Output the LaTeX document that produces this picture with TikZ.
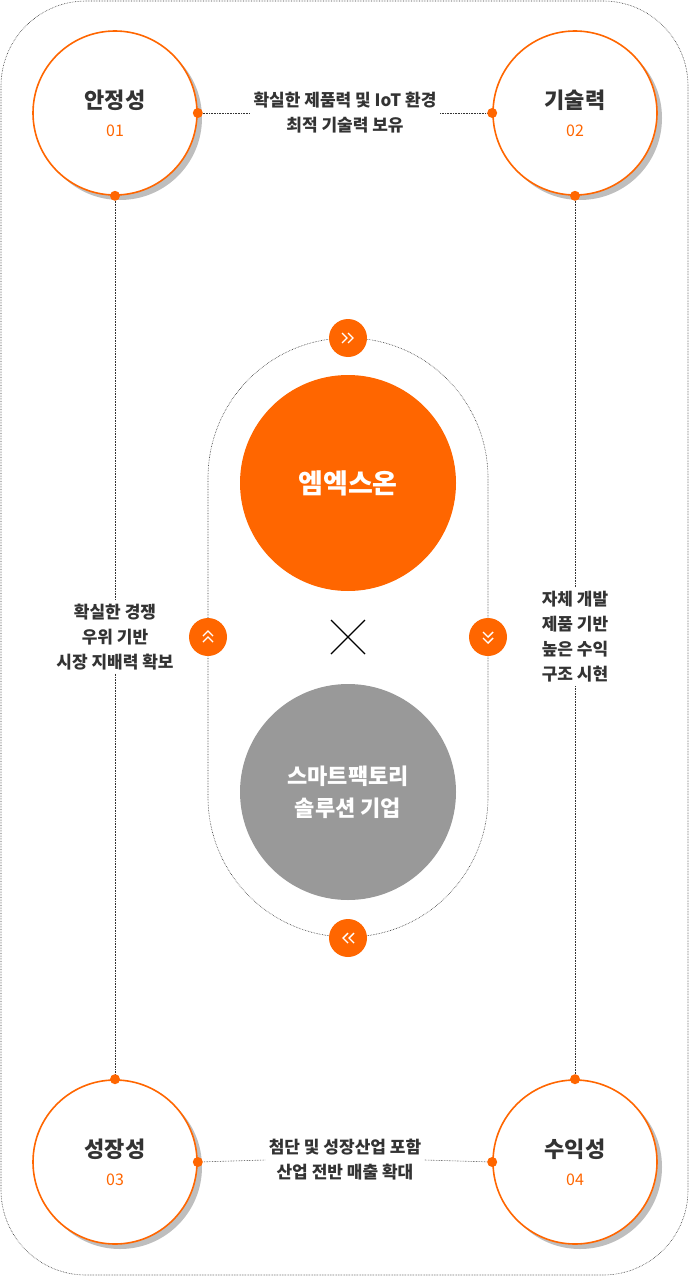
\documentclass[tikz,border=0pt]{standalone}
\usepackage{fontspec}
\setmainfont{Noto Sans CJK KR}
\usetikzlibrary{positioning}
\definecolor{mxorange}{RGB}{255,102,0}
\definecolor{mxgray}{RGB}{153,153,153}
\definecolor{mxtext}{RGB}{51,51,51}
\definecolor{mxshadow}{RGB}{190,190,190}
\tikzset{every picture/.style={line width=0.75pt}}
\begin{document}
\begin{tikzpicture}[x=1pt,y=1pt,yscale=-1,
  ring/.style={circle,draw=mxorange,line width=1.6pt,fill=white,minimum size=164pt,inner sep=0pt,align=center,text=mxtext,font=\fontsize{22}{30}\selectfont\bfseries},
  ringshadow/.style={circle,fill=mxshadow,minimum size=164pt,inner sep=0pt},
  dotlink/.style={densely dotted,draw=mxtext,line width=0.6pt},
  pin/.style={circle,fill=mxorange,minimum size=10pt,inner sep=0pt},
  badge/.style={circle,fill=mxorange,minimum size=38pt,inner sep=0pt},
  chev/.style={draw=white,line width=1.4pt},
  desc/.style={align=center,text=mxtext,font=\fontsize{17}{25}\selectfont\bfseries}]
\useasboundingbox (0,0) rectangle (689,1276);
% outer frame
\draw [dotlink,rounded corners=85pt] (1,1) rectangle (688,1275);

% inner stadium
\draw [dotlink] (208,637) -- (208,478) arc (180:360:140) -- (488,797) arc (0:180:140) -- cycle;

% shadows
\foreach \cx/\cy in {115/113,575/113,115/1162,575/1162}
  \node [ringshadow] at (\cx+5,\cy+5) {};

% rings
\node [ring] (safe) at (115,113) {안정성\\[-2pt]{\fontsize{16}{20}\selectfont\mdseries\color{mxorange}01}};
\node [ring] (tech) at (575,113) {기술력\\[-2pt]{\fontsize{16}{20}\selectfont\mdseries\color{mxorange}02}};
\node [ring] (grow) at (115,1162) {성장성\\[-2pt]{\fontsize{16}{20}\selectfont\mdseries\color{mxorange}03}};
\node [ring] (earn) at (575,1162) {수익성\\[-2pt]{\fontsize{16}{20}\selectfont\mdseries\color{mxorange}04}};

% texts
\node [desc] (topdesc) at (345,113) {확실한 제품력 및 IoT 환경\\최적 기술력 보유};
\node [desc] (botdesc) at (345,1160) {첨단 및 성장산업 포함\\산업 전반 매출 확대};
\node [desc] (leftdesc) at (115,637) {확실한 경쟁\\우위 기반\\시장 지배력 확보};
\node [desc] (rightdesc) at (575,637) {자체 개발\\제품 기반\\높은 수익\\구조 시현};

% links
\draw [dotlink] (safe.east) -- (topdesc.west);
\draw [dotlink] (topdesc.east) -- (tech.west);
\draw [dotlink] (grow.east) -- (botdesc.west);
\draw [dotlink] (botdesc.east) -- (earn.west);
\draw [dotlink] (safe.south) -- (leftdesc.north);
\draw [dotlink] (leftdesc.south) -- (grow.north);
\draw [dotlink] (tech.south) -- (rightdesc.north);
\draw [dotlink] (rightdesc.south) -- (earn.north);
\foreach \p in {safe.east,tech.west,safe.south,tech.south,grow.north,earn.north,grow.east,earn.west}
  \node [pin] at (\p) {};

% center
\node [circle,fill=mxorange,minimum size=216pt,inner sep=0pt,text=white,font=\fontsize{27}{34}\selectfont\bfseries] (mx) at (348,483) {엠엑스온};
\node [circle,fill=mxgray,minimum size=216pt,inner sep=0pt,text=white,align=center,font=\fontsize{22}{32}\selectfont\bfseries] (sf) at (348,792) {스마트팩토리\\솔루션 기업};
\draw [line width=1.2pt] (331,620) -- (365,654) (365,620) -- (331,654);

% badges
\node [badge] (bt) at (348,338) {};
\node [badge] (bb) at (348,938) {};
\node [badge] (bl) at (208,637) {};
\node [badge] (br) at (488,637) {};
\draw [chev] ([xshift=-6pt,yshift=-5pt]bt.center) -- ([xshift=-1pt]bt.center) -- ([xshift=-6pt,yshift=5pt]bt.center)
             ([xshift=0pt,yshift=-5pt]bt.center) -- ([xshift=5pt]bt.center) -- ([xshift=0pt,yshift=5pt]bt.center);
\draw [chev] ([xshift=6pt,yshift=-5pt]bb.center) -- ([xshift=1pt]bb.center) -- ([xshift=6pt,yshift=5pt]bb.center)
             ([xshift=0pt,yshift=-5pt]bb.center) -- ([xshift=-5pt]bb.center) -- ([xshift=0pt,yshift=5pt]bb.center);
\draw [chev] ([xshift=-5pt,yshift=-1pt]bl.center) -- ([yshift=-6pt]bl.center) -- ([xshift=5pt,yshift=-1pt]bl.center)
             ([xshift=-5pt,yshift=5pt]bl.center) -- ([yshift=0pt]bl.center) -- ([xshift=5pt,yshift=5pt]bl.center);
\draw [chev] ([xshift=-5pt,yshift=1pt]br.center) -- ([yshift=6pt]br.center) -- ([xshift=5pt,yshift=1pt]br.center)
             ([xshift=-5pt,yshift=-5pt]br.center) -- ([yshift=0pt]br.center) -- ([xshift=5pt,yshift=-5pt]br.center);
\end{tikzpicture}
\end{document}
